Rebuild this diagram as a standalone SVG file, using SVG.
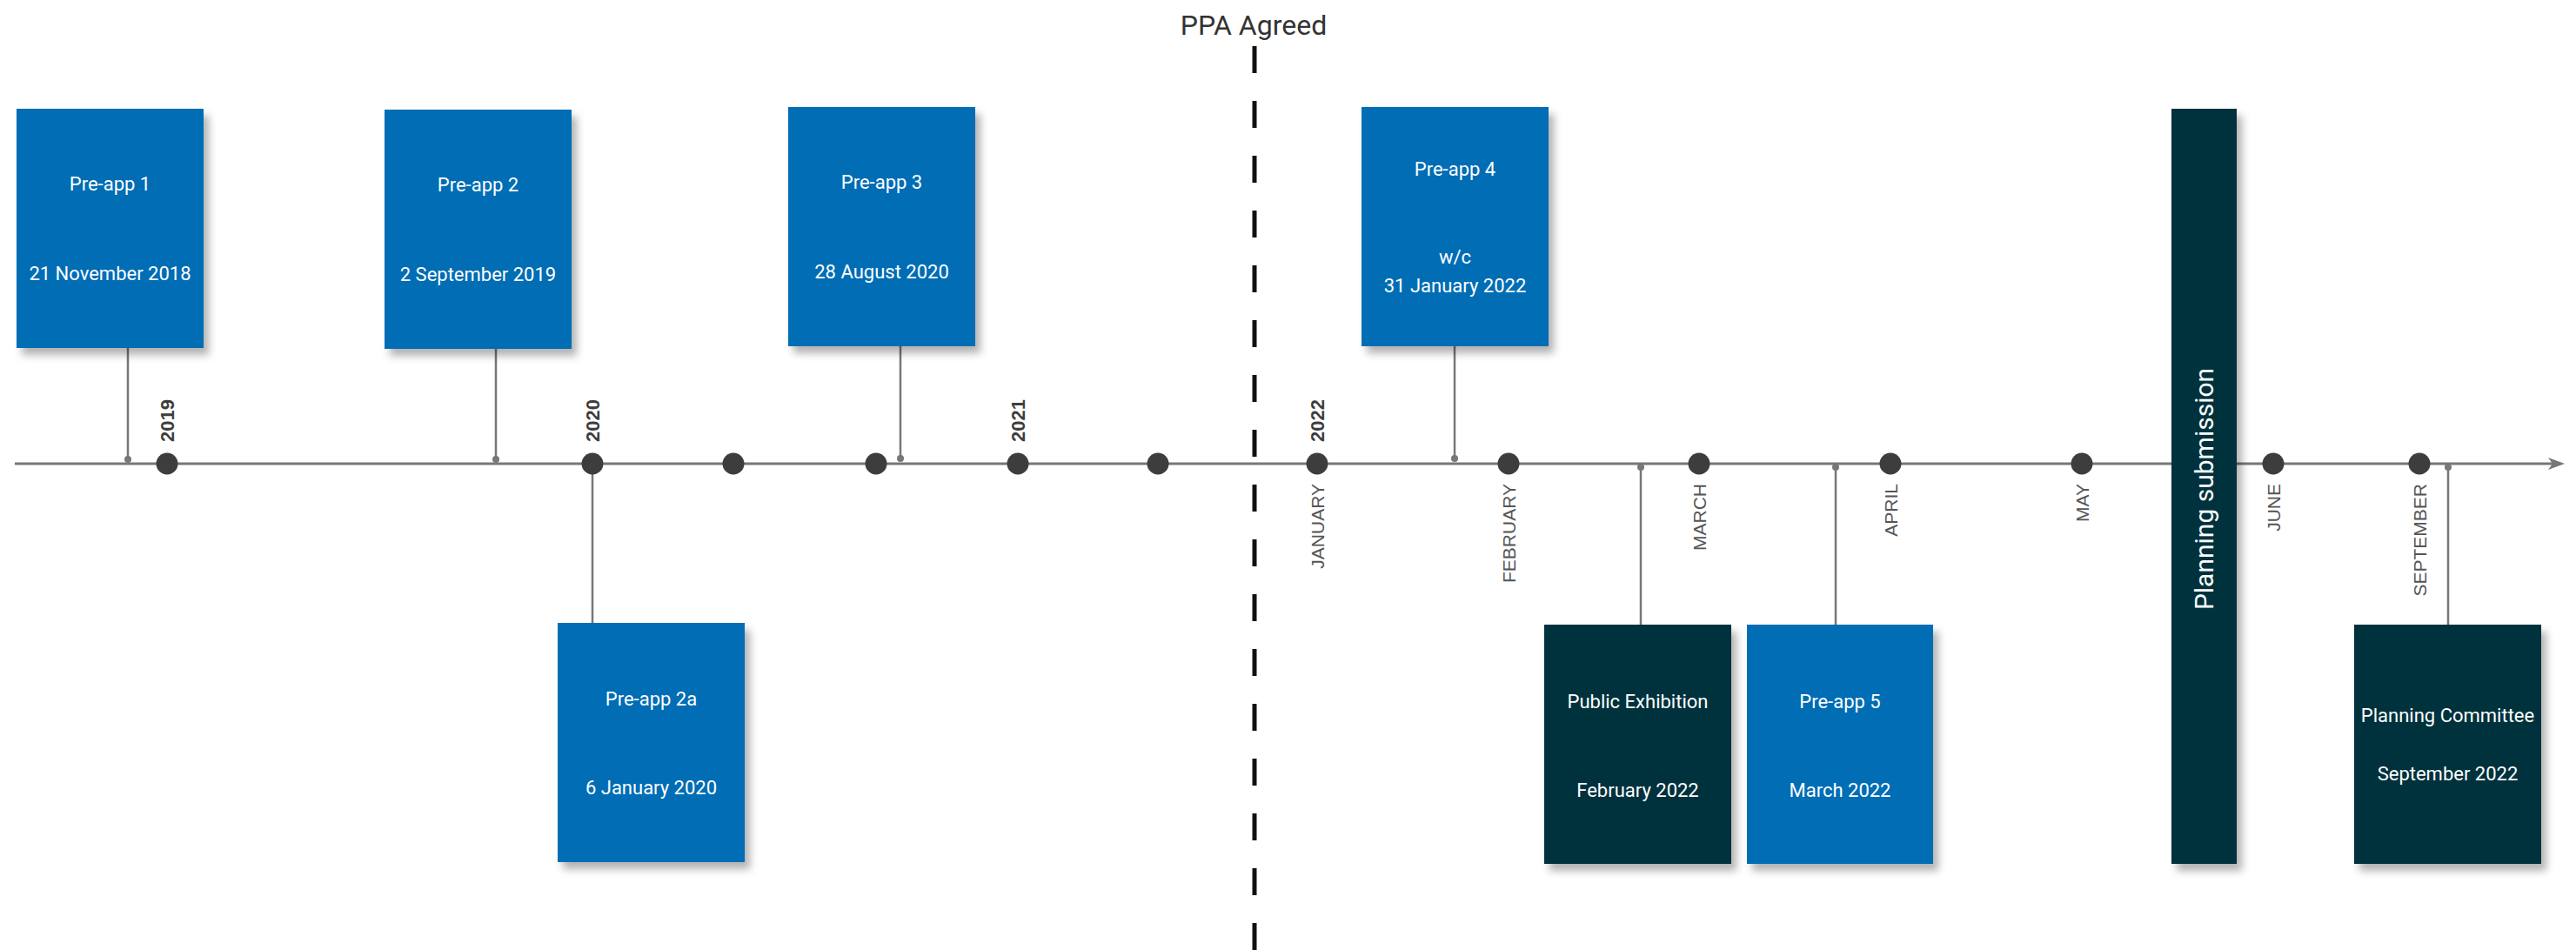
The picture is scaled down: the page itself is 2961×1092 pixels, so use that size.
<svg xmlns="http://www.w3.org/2000/svg" width="2961" height="1092" viewBox="0 0 2961 1092">
<style>
.box{stroke:none}
.blue{fill:#006DB5}
.dark{fill:#03303D}
.lbl{font-family:Roboto,"Liberation Sans",sans-serif;font-size:22px;fill:#fff;text-anchor:middle}
.yr{font-family:"Liberation Sans",Arial,sans-serif;font-size:22px;font-weight:bold;fill:#3d3d3d}
.mo{font-family:"Liberation Sans",Arial,sans-serif;font-size:21px;fill:#555;text-anchor:end}
.tick{fill:#3d3d3d}
.conn{stroke:#777;stroke-width:2.5;fill:none}
.cdot{fill:#777}
</style>
<defs>
<filter id="sh" x="-20%" y="-20%" width="150%" height="150%">
<feDropShadow dx="6" dy="8" stdDeviation="5" flood-color="#000" flood-opacity="0.3"/>
</filter>
</defs>

<!-- axis -->
<g id="axis">
<line x1="17" y1="533" x2="2940" y2="533" stroke="#777" stroke-width="3"/>
<path d="M2948,533 L2929,526 L2934,533 L2929,540 Z" fill="#777"/>
</g>

<!-- PPA line -->
<g id="ppa">
<text x="1441" y="40" font-family="Roboto,'Liberation Sans',sans-serif" font-size="32" fill="#333" text-anchor="middle">PPA Agreed</text>
<line x1="1442" y1="53" x2="1442" y2="1092" stroke="#111" stroke-width="5" stroke-dasharray="31 32"/>
</g>

<!-- connectors -->
<g id="connectors">
<line class="conn" x1="147" y1="400" x2="147" y2="528"/><circle class="cdot" cx="147" cy="528" r="4"/>
<line class="conn" x1="570" y1="400" x2="570" y2="528"/><circle class="cdot" cx="570" cy="528" r="4"/>
<line class="conn" x1="1035" y1="398" x2="1035" y2="527"/><circle class="cdot" cx="1035" cy="527" r="4"/>
<line class="conn" x1="1672" y1="398" x2="1672" y2="527"/><circle class="cdot" cx="1672" cy="527" r="4"/>
<line class="conn" x1="681" y1="533" x2="681" y2="716"/>
<line class="conn" x1="1886" y1="537" x2="1886" y2="718"/><circle class="cdot" cx="1886" cy="537" r="4"/>
<line class="conn" x1="2110" y1="537" x2="2110" y2="718"/><circle class="cdot" cx="2110" cy="537" r="4"/>
<line class="conn" x1="2814" y1="537" x2="2814" y2="718"/><circle class="cdot" cx="2814" cy="537" r="4"/>
</g>

<!-- ticks -->
<g id="ticks">
<circle class="tick" cx="192" cy="533" r="12.5"/>
<circle class="tick" cx="681" cy="533" r="12.5"/>
<circle class="tick" cx="843" cy="533" r="12.5"/>
<circle class="tick" cx="1007" cy="533" r="12.5"/>
<circle class="tick" cx="1170" cy="533" r="12.5"/>
<circle class="tick" cx="1331" cy="533" r="12.5"/>
<circle class="tick" cx="1514" cy="533" r="12.5"/>
<circle class="tick" cx="1734" cy="533" r="12.5"/>
<circle class="tick" cx="1953" cy="533" r="12.5"/>
<circle class="tick" cx="2173" cy="533" r="12.5"/>
<circle class="tick" cx="2393" cy="533" r="12.5"/>
<circle class="tick" cx="2613" cy="533" r="12.5"/>
<circle class="tick" cx="2781" cy="533" r="12.5"/>
<text class="yr" transform="translate(200,508) rotate(-90)">2019</text>
<text class="yr" transform="translate(689,508) rotate(-90)">2020</text>
<text class="yr" transform="translate(1178,508) rotate(-90)">2021</text>
<text class="yr" transform="translate(1522,508) rotate(-90)">2022</text>
<text class="mo" transform="translate(1522,556) rotate(-90)">JANUARY</text>
<text class="mo" transform="translate(1742,556) rotate(-90)">FEBRUARY</text>
<text class="mo" transform="translate(1961,556) rotate(-90)">MARCH</text>
<text class="mo" transform="translate(2181,556) rotate(-90)">APRIL</text>
<text class="mo" transform="translate(2401,556) rotate(-90)">MAY</text>
<text class="mo" transform="translate(2621,556) rotate(-90)">JUNE</text>
<text class="mo" transform="translate(2789,556) rotate(-90)">SEPTEMBER</text>
</g>

<g id="preapp1">
<rect class="box blue" x="19" y="125" width="215" height="275" filter="url(#sh)"/>
<text class="lbl" x="126.5" y="219">Pre-app 1</text>
<text class="lbl" x="126.5" y="322">21 November 2018</text>
</g>
<g id="preapp2">
<rect class="box blue" x="442" y="126" width="215" height="275" filter="url(#sh)"/>
<text class="lbl" x="549.5" y="220">Pre-app 2</text>
<text class="lbl" x="549.5" y="323">2 September 2019</text>
</g>
<g id="preapp3">
<rect class="box blue" x="906" y="123" width="215" height="275" filter="url(#sh)"/>
<text class="lbl" x="1013.5" y="217">Pre-app 3</text>
<text class="lbl" x="1013.5" y="320">28 August 2020</text>
</g>
<g id="preapp4">
<rect class="box blue" x="1565" y="123" width="215" height="275" filter="url(#sh)"/>
<text class="lbl" x="1672.5" y="202">Pre-app 4</text>
<text class="lbl" x="1672.5" y="303">w/c</text>
<text class="lbl" x="1672.5" y="336">31 January 2022</text>
</g>
<g id="preapp2a">
<rect class="box blue" x="641" y="716" width="215" height="275" filter="url(#sh)"/>
<text class="lbl" x="748.5" y="811">Pre-app 2a</text>
<text class="lbl" x="748.5" y="913">6 January 2020</text>
</g>
<g id="publicexhibition">
<rect class="box dark" x="1775" y="718" width="215" height="275" filter="url(#sh)"/>
<text class="lbl" x="1882.5" y="814">Public Exhibition</text>
<text class="lbl" x="1882.5" y="916">February 2022</text>
</g>
<g id="preapp5">
<rect class="box blue" x="2008" y="718" width="214" height="275" filter="url(#sh)"/>
<text class="lbl" x="2115" y="814">Pre-app 5</text>
<text class="lbl" x="2115" y="916">March 2022</text>
</g>
<g id="planningsubmission">
<rect class="box dark" x="2496" y="125" width="75" height="868" filter="url(#sh)"/>
<text transform="translate(2544,562) rotate(-90)" font-family="Roboto,'Liberation Sans',sans-serif" font-size="30" fill="#fff" text-anchor="middle">Planning submission</text>
</g>
<g id="planningcommittee">
<rect class="box dark" x="2706" y="718" width="215" height="275" filter="url(#sh)"/>
<text class="lbl" x="2813.5" y="830">Planning Committee</text>
<text class="lbl" x="2813.5" y="897">September 2022</text>
</g>
</svg>
